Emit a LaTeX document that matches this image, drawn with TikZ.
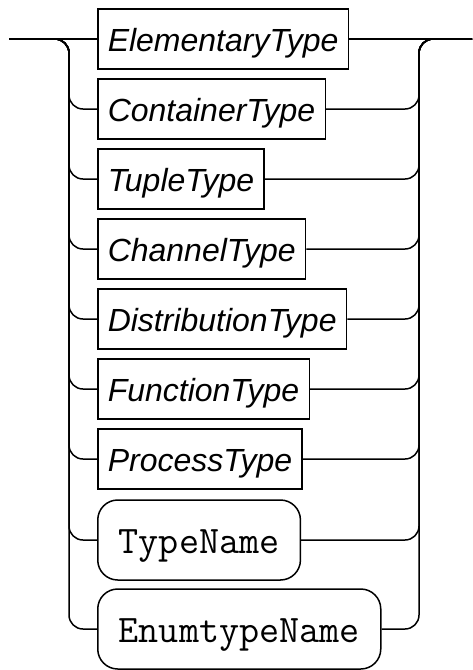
\documentclass[tikz,border=0pt]{standalone}
\usepackage{fontspec}
\setmainfont{Liberation Sans}
\usetikzlibrary{positioning}

\begin{document}
\begin{tikzpicture}[
    x=1pt, y=-1pt,
    line width=1.5pt,
    term/.style={draw, anchor=west, minimum height=60pt, inner xsep=10pt, font=\fontsize{32}{36}\selectfont\itshape, text height=25pt, text depth=0pt},
    tname/.style={draw, anchor=west, rounded corners=20pt, minimum height=80pt, inner xsep=21pt, font=\fontsize{39}{42}\selectfont\ttfamily, text height=26pt, text depth=0pt},
    rail/.style={rounded corners=14pt}
]
\useasboundingbox (0,0) rectangle (472,670);

% Entry, exit and the two bars
\coordinate (start) at (9,39);
\coordinate (finish) at (472,39);
\coordinate (lbar) at (69,39);
\coordinate (rbar) at (419,39);

% Alternatives
\node[term] (elem) at (97,39) {ElementaryType};
\node[term] (cont) at (97,109) {ContainerType};
\node[term] (tuple) at (97,179) {TupleType};
\node[term] (chan) at (97,249) {ChannelType};
\node[term] (dist) at (97,319) {DistributionType};
\node[term] (func) at (97,389) {FunctionType};
\node[term] (proc) at (97,459) {ProcessType};
\node[tname] (typen) at (97,540) {TypeName};
\node[tname] (enumn) at (97,629) {EnumtypeName};

% Rails
\draw (start) -- (elem.west);
\draw (elem.east) -- (finish);
\foreach \n in {cont,tuple,chan,dist,func,proc,typen,enumn} {
  \draw[rail] (start) -| (lbar |- \n.west) -- (\n.west);
  \draw[rail] (\n.east) -| (rbar) -- (finish);
}

\end{tikzpicture}
\end{document}
